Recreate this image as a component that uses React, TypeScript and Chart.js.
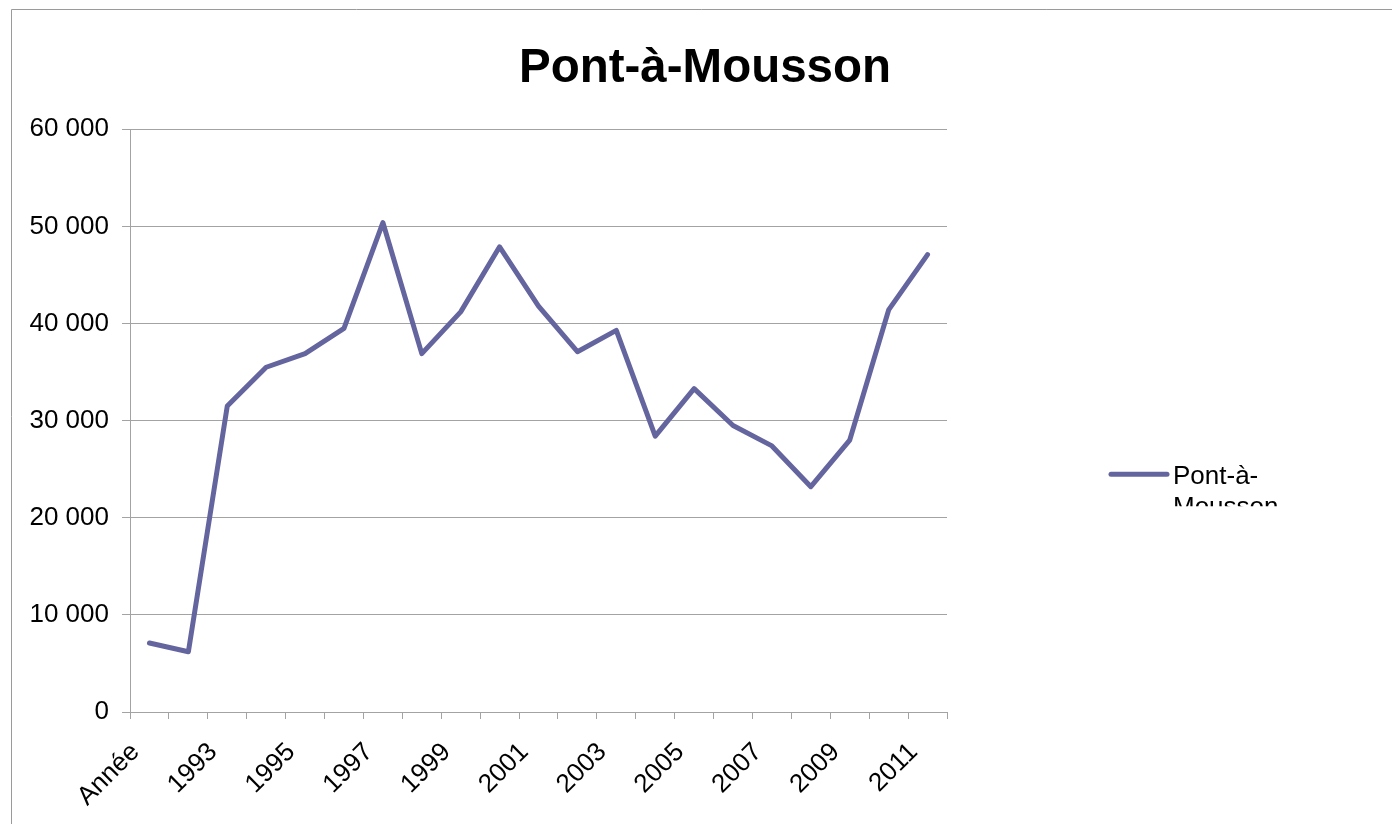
import React, { useEffect, useRef } from 'react';
import { Chart, registerables } from 'chart.js';

Chart.register(...registerables);

const TITLE = 'Pont-à-Mousson';
const SERIES_NAME = 'Pont-à-Mousson';
const LEGEND_LINES = ['Pont-à-', 'Mousson'];
const CATEGORIES = [
  'Année', '1992', '1993', '1994', '1995', '1996', '1997', '1998', '1999', '2000',
  '2001', '2002', '2003', '2004', '2005', '2006', '2007', '2008', '2009', '2010', '2011',
];
const VALUES = [
  7100, 6200, 31500, 35500, 36900, 39500, 50400, 36900, 41200, 47900,
  41800, 37100, 39300, 28400, 33300, 29500, 27400, 23200, 28000, 41400, 47100,
];
const Y_MIN = 0;
const Y_MAX = 60000;
const Y_STEP = 10000;

const FONT = "'Liberation Sans', Arial, sans-serif";
const LINE_COLOR = '#64659e';
const GRID_COLOR = '#a3a3a3';

const fmt = (v: number) => String(Math.round(v)).replace(/\B(?=(\d{3})+(?!\d))/g, ' ');

const framePlugin = {
  id: 'frame',
  beforeDraw(chart: any) {
    const { ctx, width, height } = chart;
    ctx.save();
    ctx.fillStyle = '#ffffff';
    ctx.fillRect(0, 0, width, height);
    ctx.strokeStyle = '#9a9a9a';
    ctx.lineWidth = 1;
    ctx.beginPath();
    ctx.moveTo(11.5, height);
    ctx.lineTo(11.5, 9.5);
    ctx.lineTo(width, 9.5);
    ctx.stroke();
    ctx.restore();
  },
};

const legendPlugin = {
  id: 'customLegend',
  afterDraw(chart: any) {
    const { ctx, chartArea } = chart;
    const x0 = chartArea.right + 164;
    const y0 = chartArea.top + 345;
    ctx.save();
    ctx.strokeStyle = LINE_COLOR;
    ctx.lineWidth = 5;
    ctx.lineCap = 'round';
    ctx.beginPath();
    ctx.moveTo(x0, y0);
    ctx.lineTo(x0 + 56, y0);
    ctx.stroke();
    ctx.beginPath();
    ctx.rect(x0 + 50, y0 - 40, 250, 72);
    ctx.clip();
    ctx.fillStyle = '#000';
    ctx.font = `26px ${FONT}`;
    ctx.textBaseline = 'alphabetic';
    ctx.textAlign = 'left';
    LEGEND_LINES.forEach((t, i) => {
      ctx.fillText(t, x0 + 62, y0 + 10 + i * 31);
    });
    ctx.restore();
  },
};

export default function App() {
  const ref = useRef<HTMLCanvasElement | null>(null);
  useEffect(() => {
    if (!ref.current) return;
    const chart = new Chart(ref.current, {
      type: 'line',
      data: {
        labels: CATEGORIES,
        datasets: [
          {
            label: SERIES_NAME,
            data: VALUES,
            borderColor: LINE_COLOR,
            backgroundColor: LINE_COLOR,
            borderWidth: 5,
            pointRadius: 0,
            pointHoverRadius: 0,
            tension: 0,
            borderJoinStyle: 'round',
            borderCapStyle: 'round',
            yAxisID: 'y',
          },
        ],
      },
      options: {
        responsive: false,
        animation: false,
        devicePixelRatio: 1,
        layout: { padding: { left: 18, right: 0, top: 40, bottom: 0 } },
        plugins: {
          legend: { display: false },
          tooltip: { enabled: false },
          title: {
            display: true,
            text: TITLE,
            color: '#000',
            font: { family: FONT, size: 47.5, weight: 'bold', lineHeight: 1.2 },
            padding: { top: 0, bottom: 32.3 },
          },
        },
        scales: {
          x: {
            type: 'category',
            offset: true,
            grid: {
              offset: true,
              drawOnChartArea: false,
              drawTicks: true,
              tickLength: 7,
              color: GRID_COLOR,
            },
            border: { color: GRID_COLOR, width: 1 },
            ticks: {
              autoSkip: false,
              minRotation: 45,
              maxRotation: 45,
              padding: 18,
              labelOffset: -14,
              color: '#000',
              font: { family: FONT, size: 26 },
              callback: function (this: any, value: any, index: number) {
                return index % 2 === 0 ? CATEGORIES[index] : '';
              },
            },
            afterFit: (scale: any) => {
              scale.height = 112;
            },
          },
          y: {
            type: 'linear',
            position: 'left',
            min: Y_MIN,
            max: Y_MAX,
            grid: {
              color: GRID_COLOR,
              tickLength: 8,
              drawTicks: true,
            },
            border: { color: GRID_COLOR, width: 1 },
            ticks: {
              stepSize: Y_STEP,
              padding: 13,
              color: '#000',
              font: { family: FONT, size: 26 },
              callback: (v: any) => fmt(Number(v)),
            },
            afterFit: (scale: any) => {
              scale.width = 112;
            },
          },
          yRight: {
            type: 'linear',
            position: 'right',
            display: true,
            grid: { display: false, drawOnChartArea: false },
            border: { display: false },
            ticks: { display: false },
            afterFit: (scale: any) => {
              scale.width = 445;
            },
          },
        },
      },
      plugins: [framePlugin, legendPlugin],
    });
    return () => chart.destroy();
  }, []);
  return (
    <div style={{ position: 'fixed', left: 0, top: 0, width: 1392, height: 824, overflow: 'hidden', background: '#fff' }}>
      <canvas ref={ref} width={1392} height={824} style={{ display: 'block' }} />
    </div>
  );
}
